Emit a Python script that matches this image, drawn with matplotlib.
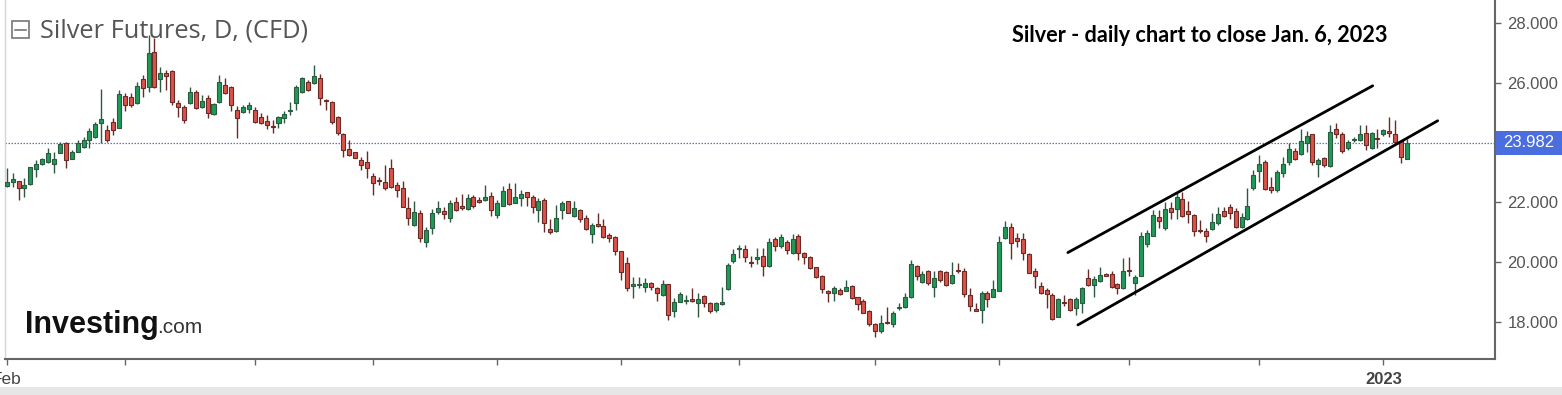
import numpy as np
import matplotlib
matplotlib.use("Agg")
import matplotlib.pyplot as plt
from matplotlib.patches import Rectangle
from matplotlib.lines import Line2D
from matplotlib.transforms import ScaledTranslation, blended_transform_factory

# daily OHLC, silver futures CFD, Feb 1 2022 .. Jan 6 2023
opens = [22.55, 22.68, 22.71, 22.46, 22.61, 23.11, 23.26, 23.35, 23.26, 23.65,
         23.97, 23.43, 23.69, 23.85, 24.08, 24.19, 24.64, 24.41, 24.69, 24.47,
         25.56, 25.53, 25.30, 26.13, 25.84, 27.03, 26.11, 26.33, 26.39, 25.33,
         25.19, 25.30, 25.67, 25.19, 25.47, 24.94, 25.36, 25.92, 25.84, 25.08,
         25.00, 25.10, 25.08, 24.83, 24.72, 24.52, 24.66, 24.80, 25.03, 25.30,
         25.69, 26.02, 25.97, 26.14, 25.41, 25.36, 24.84, 24.28, 23.77, 23.67,
         23.41, 23.33, 22.87, 22.75, 22.68, 23.13, 22.57, 22.46, 21.81, 21.23,
         21.62, 20.68, 21.12, 21.68, 21.71, 21.48, 22.01, 21.87, 21.77, 22.16,
         22.07, 22.07, 22.21, 21.57, 21.88, 22.43, 21.98, 22.12, 22.35, 22.18,
         21.73, 22.07, 21.10, 21.04, 21.73, 22.02, 21.53, 21.73, 21.47, 20.93,
         21.26, 21.21, 20.91, 20.82, 20.35, 19.95, 19.20, 19.21, 19.17, 19.30,
         19.11, 18.89, 19.26, 18.37, 18.67, 18.70, 18.75, 18.61, 18.86, 18.61,
         18.39, 18.59, 19.09, 20.03, 20.42, 20.42, 20.01, 20.08, 20.21, 19.87,
         20.75, 20.53, 20.68, 20.29, 20.87, 20.31, 20.15, 19.82, 19.53, 19.01,
         18.95, 19.06, 19.04, 19.19, 18.81, 18.70, 18.34, 17.91, 17.67, 18.00,
         17.92, 18.46, 18.48, 18.82, 19.86, 19.34, 19.68, 19.17, 19.68, 19.65,
         19.28, 19.73, 19.71, 18.89, 18.42, 18.39, 18.95, 18.84, 19.03, 20.79,
         21.16, 20.81, 20.76, 20.25, 19.71, 19.19, 19.06, 18.89, 18.17, 18.66,
         18.75, 18.45, 18.64, 19.45, 19.23, 19.36, 19.60, 19.60, 19.25, 19.12,
         19.73, 19.28, 19.53, 20.59, 20.88, 21.51, 21.12, 21.81, 21.77, 22.10,
         21.71, 21.57, 21.07, 21.04, 21.09, 21.29, 21.71, 21.84, 21.71, 21.18,
         21.43, 22.46, 23.05, 23.35, 22.51, 22.40, 22.96, 23.35, 23.72, 23.61,
         23.98, 24.28, 23.29, 23.46, 23.20, 24.46, 24.28, 23.80, 24.07, 24.07,
         24.32, 23.80, 24.16, 24.28, 24.38, 24.28, 24.05, 23.44]
highs = [23.13, 22.96, 22.72, 22.80, 23.17, 23.41, 23.46, 23.80, 23.69, 24.02,
         24.02, 23.74, 24.08, 24.19, 24.47, 24.69, 25.77, 24.58, 24.80, 25.75,
         25.64, 25.64, 26.03, 26.25, 27.59, 27.48, 26.53, 26.42, 26.42, 25.42,
         25.25, 25.84, 25.75, 25.58, 25.58, 25.33, 26.25, 26.14, 25.88, 25.21,
         25.25, 25.36, 25.19, 24.97, 24.91, 24.75, 24.88, 25.03, 25.36, 25.92,
         26.17, 26.08, 26.59, 26.29, 25.44, 25.38, 24.88, 24.32, 24.08, 23.69,
         23.52, 23.72, 22.96, 22.85, 23.24, 23.43, 22.68, 22.72, 22.18, 22.04,
         21.73, 21.18, 21.77, 22.04, 21.85, 22.07, 22.18, 22.26, 22.26, 22.24,
         22.18, 22.57, 22.35, 22.07, 22.54, 22.63, 22.63, 22.40, 22.35, 22.24,
         22.12, 22.12, 21.42, 21.90, 22.04, 22.05, 22.04, 21.77, 21.57, 21.29,
         21.62, 21.42, 20.95, 20.86, 20.37, 20.15, 19.50, 19.50, 19.45, 19.34,
         19.17, 19.39, 19.26, 18.78, 19.00, 18.89, 19.11, 18.95, 18.89, 18.67,
         18.67, 19.17, 19.95, 20.42, 20.56, 20.56, 20.20, 20.45, 20.45, 20.81,
         20.82, 20.93, 20.73, 20.93, 20.93, 20.34, 20.18, 19.84, 19.56, 19.06,
         19.20, 19.12, 19.40, 19.23, 18.84, 18.75, 18.39, 17.95, 18.23, 18.50,
         18.34, 18.61, 18.95, 20.06, 19.90, 19.68, 19.73, 19.68, 19.73, 19.68,
         20.01, 19.95, 19.79, 19.12, 18.61, 19.01, 19.01, 19.40, 20.87, 21.35,
         21.29, 20.96, 20.96, 20.29, 19.79, 19.34, 19.12, 18.95, 18.78, 18.89,
         18.78, 18.84, 19.17, 19.75, 19.51, 19.82, 19.64, 19.68, 19.28, 20.12,
         20.15, 19.56, 21.01, 21.07, 21.74, 21.73, 22.01, 22.01, 22.29, 22.35,
         22.05, 21.60, 21.40, 21.12, 21.62, 21.84, 21.84, 21.93, 21.79, 21.62,
         22.46, 23.07, 23.57, 23.41, 22.85, 23.07, 23.52, 23.96, 23.80, 24.46,
         24.39, 24.28, 23.46, 23.52, 24.58, 24.63, 24.35, 24.07, 24.19, 24.58,
         24.58, 24.35, 24.46, 24.46, 24.85, 24.74, 24.07, 24.10]
lows = [22.52, 22.52, 22.07, 22.18, 22.57, 22.85, 23.24, 23.30, 22.96, 23.63,
        23.13, 23.43, 23.69, 23.80, 23.80, 24.13, 23.97, 24.02, 24.25, 24.47,
        25.03, 25.19, 25.28, 25.53, 25.69, 25.81, 25.69, 25.75, 25.25, 24.86,
        24.64, 25.28, 25.10, 25.14, 24.80, 24.92, 25.33, 25.62, 25.06, 24.13,
        24.97, 24.97, 24.66, 24.61, 24.43, 24.30, 24.47, 24.64, 24.92, 25.08,
        25.64, 25.73, 25.95, 25.25, 25.08, 24.61, 24.25, 23.50, 23.55, 23.47,
        23.07, 22.80, 22.24, 22.57, 22.41, 22.46, 22.18, 21.82, 21.23, 21.21,
        20.68, 20.49, 20.93, 21.59, 21.43, 21.32, 21.70, 21.73, 21.73, 21.81,
        21.96, 22.05, 21.53, 21.48, 21.87, 21.90, 21.96, 21.87, 21.87, 21.65,
        21.32, 20.99, 20.93, 21.01, 21.42, 21.62, 21.51, 21.32, 21.07, 20.62,
        21.18, 20.79, 20.68, 20.23, 19.39, 19.03, 18.78, 19.12, 19.00, 19.06,
        18.70, 18.87, 18.06, 18.17, 18.65, 18.59, 18.67, 18.17, 18.50, 18.28,
        18.33, 18.56, 19.06, 19.95, 20.12, 20.01, 19.84, 19.92, 19.53, 19.84,
        20.37, 20.45, 20.27, 20.27, 20.06, 19.93, 19.76, 19.45, 18.97, 18.67,
        18.70, 18.90, 19.01, 18.75, 18.39, 18.28, 17.87, 17.48, 17.63, 17.92,
        17.83, 18.39, 18.45, 18.78, 19.40, 19.28, 19.23, 18.82, 19.34, 19.19,
        19.26, 19.62, 18.82, 18.37, 18.37, 17.97, 18.50, 18.82, 19.01, 20.76,
        20.09, 20.51, 20.06, 19.62, 19.12, 18.93, 18.45, 18.06, 18.15, 18.53,
        18.37, 18.23, 18.30, 19.19, 18.82, 19.31, 19.51, 19.12, 18.93, 19.08,
        19.51, 18.89, 19.51, 20.51, 20.85, 21.12, 21.06, 21.45, 21.45, 21.51,
        21.29, 20.88, 20.95, 20.67, 21.06, 21.23, 21.51, 21.45, 21.12, 21.12,
        21.40, 22.40, 22.68, 22.40, 22.29, 22.35, 22.85, 23.24, 23.41, 23.57,
        23.68, 23.24, 22.85, 23.18, 23.16, 24.13, 23.63, 23.74, 24.02, 24.05,
        23.74, 23.76, 23.80, 24.21, 24.19, 23.99, 23.32, 23.43]
closes = [22.68, 22.76, 22.46, 22.57, 23.16, 23.27, 23.43, 23.63, 23.43, 23.94,
          23.41, 23.69, 23.97, 24.08, 24.38, 24.61, 24.77, 24.06, 24.41, 25.62,
          25.25, 25.25, 25.88, 25.81, 26.98, 25.84, 26.33, 26.22, 25.36, 25.19,
          24.75, 25.69, 25.14, 25.38, 24.97, 25.28, 26.03, 25.66, 25.25, 24.80,
          25.17, 25.25, 24.69, 24.66, 24.58, 24.50, 24.84, 24.94, 25.08, 25.84,
          26.14, 25.75, 26.22, 25.47, 25.39, 24.69, 24.30, 23.74, 23.58, 23.49,
          23.24, 23.15, 22.65, 22.72, 22.46, 22.52, 22.41, 21.85, 21.48, 21.66,
          20.79, 21.07, 21.62, 21.81, 21.60, 21.96, 21.73, 21.79, 22.12, 21.87,
          21.99, 22.18, 21.73, 21.96, 22.37, 21.94, 22.16, 22.27, 22.16, 21.85,
          22.04, 21.29, 20.99, 21.46, 21.98, 21.65, 21.81, 21.43, 21.09, 21.23,
          21.20, 20.84, 20.79, 20.37, 19.67, 19.14, 19.25, 19.25, 19.30, 19.17,
          18.97, 19.26, 18.22, 18.65, 18.91, 18.74, 18.69, 18.76, 18.64, 18.37,
          18.61, 18.65, 19.89, 20.25, 20.44, 20.17, 19.97, 20.17, 19.87, 20.65,
          20.54, 20.82, 20.38, 20.77, 20.29, 20.15, 19.79, 19.49, 19.08, 18.96,
          19.12, 18.93, 19.15, 18.78, 18.59, 18.30, 17.92, 17.67, 17.95, 17.95,
          18.30, 18.50, 18.82, 19.92, 19.53, 19.60, 19.28, 19.45, 19.40, 19.23,
          19.56, 19.68, 18.93, 18.53, 18.37, 18.95, 18.75, 19.10, 20.66, 21.16,
          20.62, 20.70, 20.29, 19.64, 19.53, 18.97, 18.93, 18.08, 18.75, 18.62,
          18.39, 18.75, 19.12, 19.23, 19.42, 19.56, 19.54, 19.17, 19.14, 19.71,
          19.68, 19.48, 20.87, 20.96, 21.57, 21.38, 21.77, 21.68, 22.16, 21.54,
          21.59, 21.04, 21.02, 20.88, 21.32, 21.60, 21.54, 21.64, 21.18, 21.51,
          21.87, 22.90, 23.29, 22.44, 22.40, 23.02, 23.29, 23.76, 23.43, 24.05,
          24.21, 23.35, 23.41, 23.24, 24.35, 24.28, 23.71, 24.02, 24.12, 24.28,
          23.91, 24.32, 24.10, 24.41, 24.32, 24.02, 23.50, 23.98]

last_price = 23.982
price_ticks = [18, 20, 22, 24, 26, 28]
# candle index of the first session of each month (Feb .. Jan)
month_starts = [0, 20, 42, 62, 83, 104, 124, 147, 168, 190, 212, 233]
month_labels = ["Feb", "", "", "", "", "", "", "", "", "", "", "2023"]

# hand-drawn channel: (start idx, start price, end idx, end price)
upper_channel = [179.6, 20.31, 231.2, 25.89]
lower_channel = [181.3, 17.89, 242.2, 24.72]

W, H = 1562, 395
fig = plt.figure(figsize=(W / 100, H / 100), dpi=100)
ax = fig.add_axes([5 / W, 36 / H, 1490 / W, 359 / H])

o = np.array(opens)
hi = np.array(highs)
lo = np.array(lows)
c = np.array(closes)
idx = np.arange(len(o))
up = c >= o

green, green_edge = "#1f9a57", "#2c5a40"
red, red_edge = "#dc5248", "#6a2b27"

fills = np.where(up, green, red)
edges = np.where(up, green_edge, red_edge)

ax.vlines(idx, lo, hi, colors=edges, lw=1.0, zorder=2)
body_low = np.minimum(o, c)
body_h = np.maximum(np.abs(c - o), 0.035)
ax.bar(idx, body_h, bottom=body_low, width=0.68, color=fills,
       edgecolor=edges, linewidth=0.8, zorder=3)

ax.axhline(last_price, color="#5a72d8", lw=0.9, ls=(0, (1.2, 1.2)), zorder=1)

for seg in (upper_channel, lower_channel):
    ax.plot([seg[0], seg[2]], [seg[1], seg[3]], color="black", lw=2.0,
            solid_capstyle="round", zorder=4)

ax.set_xlim(-0.29, 251.9)
ax.set_ylim(16.75, 28.76)

ax.spines["top"].set_visible(False)
ax.spines["left"].set_color("#d5d5d5")
ax.spines["left"].set_linewidth(1.0)
ax.spines["right"].set_color("#666666")
ax.spines["right"].set_linewidth(1.5)
ax.spines["bottom"].set_color("#666666")
ax.spines["bottom"].set_linewidth(1.5)

ax.yaxis.tick_right()
ax.set_yticks(price_ticks)
# the 24 label sits under the last-price tag
ax.set_yticklabels(["" if v == 24 else f"{v:.3f}" for v in price_ticks], fontsize=12,
                   family="Liberation Sans", color="#555555")
ax.tick_params(axis="y", direction="out", length=4, width=1, color="#666666", pad=5)

ax.set_xticks(month_starts)
ax.set_xticklabels(month_labels, fontsize=12.5, family="Liberation Sans",
                   color="#444444")
xl = ax.get_xticklabels()
xl[-1].set_fontweight("bold")
xl[-1].set_fontsize(12)
xl[0].set_transform(xl[0].get_transform() + ScaledTranslation(-0.07, 0, fig.dpi_scale_trans))
ax.tick_params(axis="x", direction="out", length=4, width=1, color="#666666", pad=5)

# last price tag on the axis
tag_tr = blended_transform_factory(fig.transFigure, ax.transData)
tag_h = 24 / 29.9
fig.patches.append(Rectangle((1496 / W, last_price - tag_h / 2), 1 - 1496 / W, tag_h,
                             transform=tag_tr, fc="#4a6ee0", ec="none", zorder=10))
fig.text((1496 + W) / 2 / W, last_price, f"{last_price:.3f}", transform=tag_tr,
         ha="center", va="center", fontsize=12, family="Liberation Sans",
         color="white", zorder=11)

# header
fig.patches.append(Rectangle((12 / W, 1 - 38 / H), 17 / W, 17 / H, transform=fig.transFigure,
                             fill=False, ec="#777777", lw=1.2))
fig.lines.append(Line2D([15 / W, 26 / W], [1 - 29.5 / H] * 2, transform=fig.transFigure,
                        color="#777777", lw=1.2))
fig.text(40 / W, 1 - 37 / H, "Silver Futures, D, (CFD)", fontsize=18.3,
         family="Open Sans", color="#555555", ha="left", va="baseline")

fig.text(1012 / W, 1 - 42 / H, "Silver - daily chart to close Jan. 6, 2023",
         fontsize=15.6, family="Lato", fontweight="bold", color="black",
         ha="left", va="baseline")

# watermark logo
logo = fig.text(25 / W, 1 - 333 / H, "Investing", fontsize=22, family="Liberation Sans",
                fontweight="bold", color="#111111", ha="left", va="baseline")
fig.text(0, 0, ".com", fontsize=15, family="Liberation Sans", color="#333333",
         ha="left", va="baseline",
         transform=logo.get_transform() + ScaledTranslation(1.32, 0, fig.dpi_scale_trans),
         position=(25 / W, 1 - 333 / H))

# toolbar strip at the very bottom
fig.patches.append(Rectangle((0, 0), 1, 8 / H, transform=fig.transFigure,
                             fc="#e6e6e6", ec="none"))

fig.savefig("out.png", dpi=100)
